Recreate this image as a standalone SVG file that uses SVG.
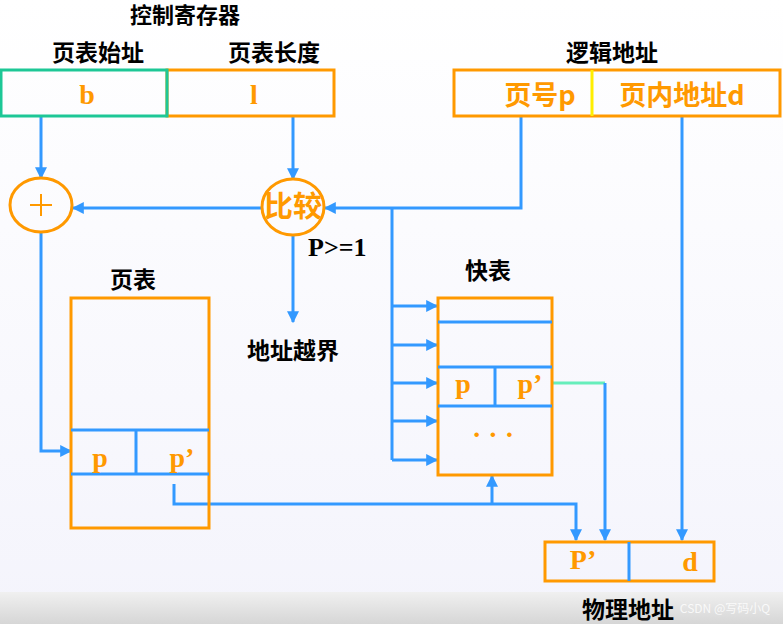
<svg xmlns="http://www.w3.org/2000/svg" width="783" height="624" viewBox="0 0 783 624">
<defs>
<linearGradient id="bg" x1="0" y1="0" x2="0" y2="1"><stop offset="0" stop-color="#ffffff"/><stop offset="1" stop-color="#f4f4fc"/></linearGradient>
<linearGradient id="band" x1="0" y1="0" x2="0" y2="1"><stop offset="0" stop-color="#f0f0f0"/><stop offset="1" stop-color="#d6d6d6"/></linearGradient>
<marker id="ar" viewBox="0 0 10 10" refX="9" refY="5" markerWidth="4" markerHeight="4" orient="auto"><path d="M0,0L10,5L0,10z" fill="#3399ff"/></marker>
<style>
.cn{font-family:"Noto Sans CJK SC",sans-serif;font-weight:bold;font-size:23px;text-anchor:middle;fill:#000}
.or{font-family:"Liberation Serif","Noto Sans CJK SC",serif;font-weight:bold;font-size:28px;text-anchor:middle;fill:#ff9900}
.ob{fill:none;stroke:#ff9900;stroke-width:3}
.c{fill:none;stroke:#3399ff;stroke-width:3}
.a{fill:none;stroke:#3399ff;stroke-width:3;marker-end:url(#ar)}
</style>
</defs>
<rect width="783" height="624" fill="url(#bg)"/>
<rect y="592" width="783" height="32" fill="url(#band)"/>
<g id="connectors">
<path class="a" d="M41,116V178"/>
<path class="a" d="M293,116V179"/>
<path class="a" d="M521,116V208H325"/>
<path class="c" d="M392,208V460"/>
<path class="a" d="M392,306H437"/><path class="a" d="M392,345H437"/><path class="a" d="M392,383H437"/><path class="a" d="M392,421H437"/><path class="a" d="M392,460H437"/>
<path class="a" d="M262,208H73"/>
<path class="a" d="M293,236V322"/>
<path class="a" d="M41,232V451H71"/>
<path class="a" d="M174,484V504H576V540"/>
<path class="a" d="M492,504V476"/>
<path fill="none" stroke="#66eebb" stroke-width="3" d="M553,383H605"/>
<path class="a" d="M605,383V540"/>
<path class="a" d="M682,116V540"/>
</g>
<text class="cn" x="185" y="23" style="font-size:22px">控制寄存器</text>
<g id="ctrl">
<text class="cn" x="98" y="61">页表始址</text>
<text class="cn" x="274" y="61">页表长度</text>
<rect x="167" y="70" width="167" height="46" class="ob"/>
<rect x="1" y="70" width="166" height="46" fill="none" stroke="#1dc796" stroke-width="3"/>
<text class="or" x="87" y="104">b</text>
<text class="or" x="254" y="104">l</text>
</g>
<g id="logical">
<text class="cn" x="612" y="61">逻辑地址</text>
<rect x="454" y="70" width="326" height="46" class="ob"/>
<path d="M592,70V116" stroke="#ffee00" stroke-width="3"/>
<text class="or" x="540" y="105" style="font-family:'Noto Sans CJK SC',sans-serif;font-size:27px">页号p</text>
<text class="or" x="682" y="105" style="font-family:'Noto Sans CJK SC',sans-serif;font-size:27px">页内地址d</text>
</g>
<g id="plus">
<ellipse cx="41" cy="205" rx="31" ry="27" class="ob"/>
<path d="M30,205H52M41,194V216" stroke="#ff9900" stroke-width="2"/>
</g>
<g id="compare">
<ellipse cx="293" cy="207" rx="31" ry="28" class="ob" fill="#fff"/>
<text class="or" x="293" y="217" style="font-family:'Noto Sans CJK SC',sans-serif;font-size:29px">比较</text>
</g>
<text x="308" y="256" style="font-family:'Liberation Serif',serif;font-weight:bold;font-size:26px" fill="#000">P&gt;=1</text>
<text class="cn" x="293" y="359">地址越界</text>
<g id="pagetable">
<text class="cn" x="133" y="288">页表</text>
<rect x="71" y="298" width="138" height="230" class="ob"/>
<path class="c" d="M71,430H209M71,474H209M136,430V474"/>
<text class="or" x="100" y="467">p</text>
<text class="or" x="182" y="467">p’</text>
</g>
<g id="fasttable">
<text class="cn" x="488" y="279">快表</text>
<rect x="438" y="298" width="114" height="177" class="ob"/>
<path class="c" d="M438,322H552M438,367H552M438,406H552M495,367V406"/>
<text class="or" x="463" y="393">p</text>
<text class="or" x="530" y="393">p’</text>
<text class="or" x="493" y="444">· · ·</text>
</g>
<g id="physical">
<rect x="545" y="542" width="169" height="39" class="ob"/>
<path class="c" d="M629,542V581"/>
<text class="or" x="583" y="569">P’</text>
<text class="or" x="690" y="571">d</text>
<text class="cn" x="628" y="618">物理地址</text>
</g>
<text x="725" y="613" style="font-family:'Noto Sans CJK SC',sans-serif;font-size:12px;text-anchor:middle" fill="#ffffff" opacity="0.8">CSDN @写码小Q</text>
</svg>
